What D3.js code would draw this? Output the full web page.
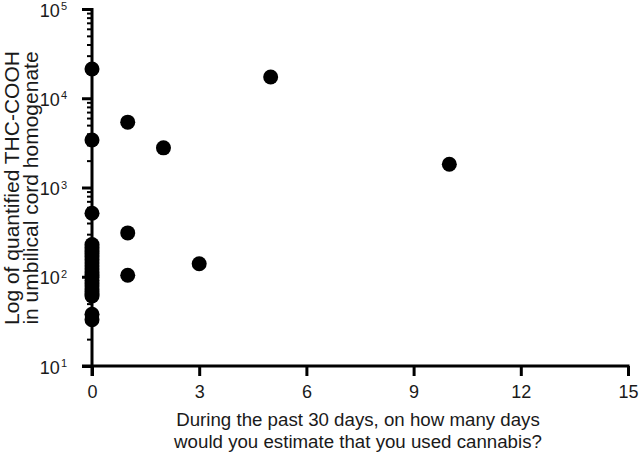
<!DOCTYPE html>
<html>
<head>
<meta charset="utf-8">
<script src="https://cdn.jsdelivr.net/npm/d3@7/dist/d3.min.js"></script>
<style>
  html, body { margin: 0; padding: 0; background: #fff; }
  svg { display: block; }
  text { font-family: "Liberation Sans", Arial, Helvetica, sans-serif; fill: #1a1a1a; }
</style>
</head>
<body>
<svg id="chart" width="639" height="453"></svg>
<script>
// Data: days of cannabis use (x) vs THC-COOH in umbilical cord homogenate (y)
const daysUsed = [
  0, 0, 0,
  0, 0, 0, 0, 0, 0, 0, 0, 0, 0, 0, 0, 0, 0, 0, 0, 0, 0, 0,
  0, 0,
  1, 1, 1, 2, 3, 5, 10
];
const thcCooh = [
  21300, 3400, 515,
  230, 212, 196, 182, 168, 155, 143, 132, 122, 113, 105, 98, 91, 85, 79, 73, 68, 64, 61,
  38, 33,
  5400, 310, 104, 2780, 140, 17300, 1820
];
const xTicks = [0, 3, 6, 9, 12, 15];
const yMajorExp = [1, 2, 3, 4, 5];
const yLabel = ["Log of quantified THC-COOH", "in umbilical cord homogenate"];
const xLabel = ["During the past 30 days, on how many days", "would you estimate that you used cannabis?"];

const svg = d3.select("#chart");
const x = d3.scaleLinear().domain([0, 15]).range([92, 628]);
const y = d3.scaleLog().domain([10, 1e5]).range([366, 9]);

const minor = [];
for (let e = 1; e < 5; e++) for (let m = 2; m <= 9; m++) minor.push(m * Math.pow(10, e));

// minor y ticks
const gMinor = svg.append("g").attr("transform", `translate(${x(0)},0)`)
  .call(d3.axisLeft(y).tickValues(minor).tickSize(5).tickFormat(""));
gMinor.select(".domain").remove();
gMinor.selectAll(".tick line").attr("stroke", "#000").attr("stroke-width", 2);

// major y ticks
const gY = svg.append("g").attr("transform", `translate(${x(0)},0)`)
  .call(d3.axisLeft(y).tickValues(yMajorExp.map(e => Math.pow(10, e))).tickSize(10).tickFormat(""));
gY.select(".domain").remove();
gY.selectAll(".tick line").attr("stroke", "#000").attr("stroke-width", 3);
gY.selectAll(".tick text").each(function(d) {
  const t = d3.select(this).attr("font-size", 18).attr("dy", "0.4em").attr("x", -25);
  t.append("tspan").text("10");
  t.append("tspan").attr("font-size", 11).attr("dy", "-0.6em").attr("dx", "1").text(Math.round(Math.log10(d)));
});

// y axis line (extends below the x axis like a tick)
svg.append("line").attr("x1", x(0)).attr("x2", x(0))
  .attr("y1", y(1e5) - 1).attr("y2", y(10) + 10)
  .attr("stroke", "#000").attr("stroke-width", 3);

// x axis
const gX = svg.append("g").attr("transform", `translate(0,${y(10)})`)
  .call(d3.axisBottom(x).tickValues(xTicks).tickSize(10).tickPadding(9).tickFormat(d3.format("d")));
gX.select(".domain").remove();
gX.selectAll(".tick line").attr("stroke", "#000").attr("stroke-width", 3);
gX.selectAll(".tick text").attr("font-size", 18);
svg.append("line").attr("x1", x(0) - 10).attr("x2", x(15) + 1.5)
  .attr("y1", y(10)).attr("y2", y(10))
  .attr("stroke", "#000").attr("stroke-width", 3);

// points
svg.append("g").selectAll("circle")
  .data(daysUsed.map((d, i) => [d, thcCooh[i]]))
  .join("circle")
  .attr("cx", d => x(d[0]))
  .attr("cy", d => y(d[1]))
  .attr("r", 7.5)
  .attr("fill", "#000");

// axis titles
const yt = svg.append("text").attr("transform", "translate(19,188) rotate(-90)")
  .attr("text-anchor", "middle").attr("font-size", 21);
yt.append("tspan").attr("x", 0).attr("y", 0).text(yLabel[0]);
yt.append("tspan").attr("x", 0).attr("y", 19).text(yLabel[1]);

const xt = svg.append("text").attr("text-anchor", "middle").attr("font-size", 18.7);
xt.append("tspan").attr("x", 358).attr("y", 426).text(xLabel[0]);
xt.append("tspan").attr("x", 358).attr("y", 448).text(xLabel[1]);
</script>
</body>
</html>
